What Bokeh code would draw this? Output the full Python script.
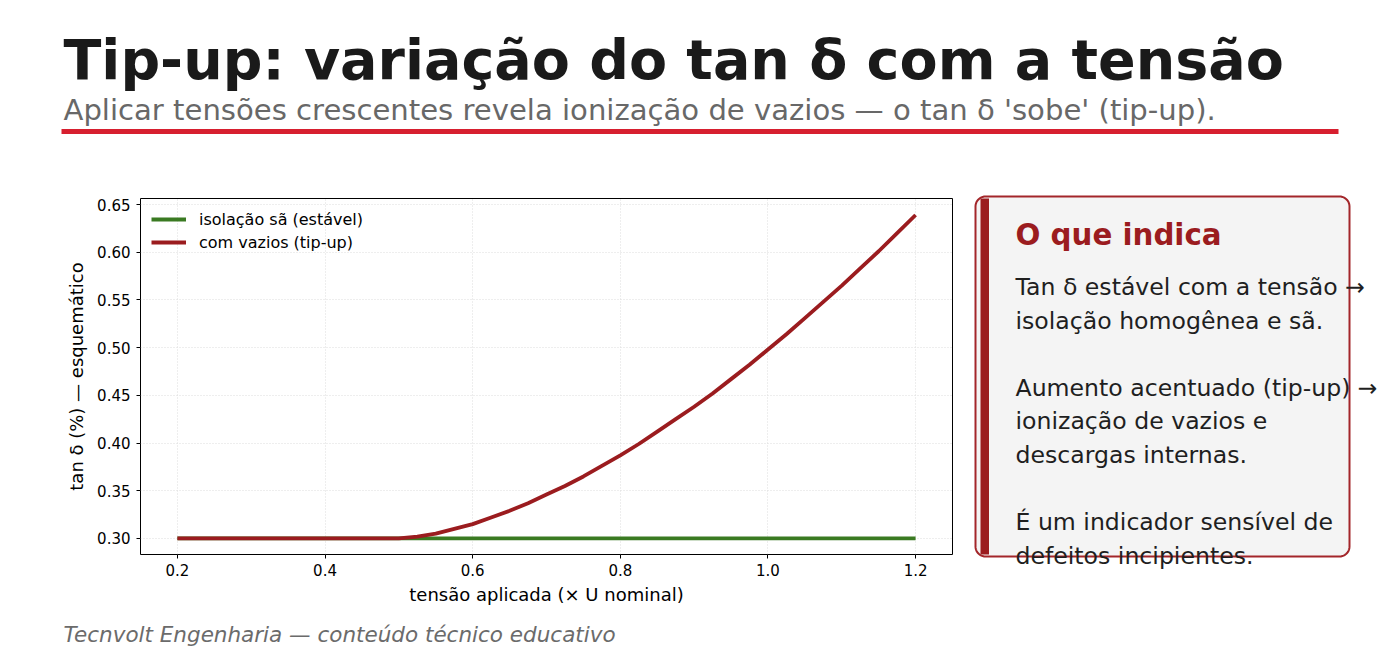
import numpy as np
from bokeh.plotting import figure
from bokeh.layouts import column, row
from bokeh.models import Range1d, FixedTicker, PrintfTickFormatter, Legend, LegendItem
from bokeh.core.properties import value
from bokeh.embed import file_html
from bokeh.resources import INLINE

# ---------------- data ----------------
title_text = "Tip-up: variação do tan δ com a tensão"
subtitle_text = "Aplicar tensões crescentes revela ionização de vazios — o tan δ 'sobe' (tip-up)."
footer_text = "Tecnvolt Engenharia — conteúdo técnico educativo"

voltage = [0.200, 0.300, 0.400, 0.500, 0.525, 0.550, 0.575, 0.600, 0.625, 0.650, 0.675,
           0.700, 0.725, 0.750, 0.775, 0.800, 0.825, 0.850, 0.875, 0.900, 0.925, 0.950,
           0.975, 1.000, 1.025, 1.050, 1.075, 1.100, 1.125, 1.150, 1.175, 1.200]
tan_sound = [0.300] * len(voltage)
tan_voids = [0.300, 0.300, 0.300, 0.300, 0.302, 0.305, 0.310, 0.315, 0.322, 0.329, 0.337,
             0.346, 0.355, 0.365, 0.376, 0.387, 0.399, 0.412, 0.425, 0.438, 0.452, 0.467,
             0.482, 0.498, 0.514, 0.531, 0.548, 0.565, 0.583, 0.601, 0.620, 0.639]
series_labels = ["isolação sã (estável)", "com vazios (tip-up)"]

x_ticks = [0.2, 0.4, 0.6, 0.8, 1.0, 1.2]
y_ticks = [0.30, 0.35, 0.40, 0.45, 0.50, 0.55, 0.60, 0.65]
x_label = "tensão aplicada (× U nominal)"
y_label = "tan δ (%) — esquemático"

box_title = "O que indica"
box_lines = ["Tan δ estável com a tensão →",
             "isolação homogênea e sã.",
             "",
             "Aumento acentuado (tip-up) →",
             "ionização de vazios e",
             "descargas internas.",
             "",
             "É um indicador sensível de",
             "defeitos incipientes."]

FONT = "DejaVu Sans"
GREEN = "#3a7a22"
DARKRED = "#9b1c1f"
BL = 0.4  # baseline correction (fraction of font size)


def blank(w, h, x0, x1, y0, y1):
    f = figure(width=w, height=h, x_range=Range1d(x0, x1), y_range=Range1d(y1, y0),
               output_backend="svg", toolbar_location=None,
               min_border=0, min_border_left=0, min_border_right=0,
               min_border_top=0, min_border_bottom=0)
    f.axis.visible = False
    f.grid.visible = False
    f.outline_line_color = None
    return f


def put_text(f, x, y, txt, size, color, style="normal"):
    f.text(x=x, y=[v - BL * size for v in y], text=txt, text_font=value(FONT),
           text_font_style=style, text_font_size=f"{size}px", text_color=color,
           text_baseline="alphabetic")


# ---------------- header ----------------
head = blank(1392, 180, 0, 1392, 0, 180)
put_text(head, [63], [81], [title_text], 55.5, "#1a1a1a", "bold")
put_text(head, [63], [121], [subtitle_text], 29.1, "#686868")
head.segment(x0=[61], y0=[131], x1=[1338], y1=[131], line_color="#d71f2f", line_width=5)

# ---------------- main plot ----------------
p = figure(frame_width=812, frame_height=356, min_border_left=140, min_border_right=8,
           min_border_top=18, min_border_bottom=58,
           x_range=Range1d(0.15, 1.25), y_range=Range1d(0.2832, 0.6563),
           output_backend="svg", toolbar_location=None)
r1 = p.line(voltage, tan_sound, line_color=GREEN, line_width=3.8)
r2 = p.line(voltage, tan_voids, line_color=DARKRED, line_width=3.8, line_join="round")
p.outline_line_color = "black"
p.outline_line_width = 1
p.xaxis.ticker = FixedTicker(ticks=x_ticks)
p.yaxis.ticker = FixedTicker(ticks=y_ticks)
p.xaxis.formatter = PrintfTickFormatter(format="%.1f")
p.yaxis.formatter = PrintfTickFormatter(format="%.2f")
p.xaxis.axis_label = x_label
p.yaxis.axis_label = y_label
for ax in (p.xaxis, p.yaxis):
    ax.axis_line_color = None
    ax.major_tick_in = 0
    ax.major_tick_out = 4
    ax.minor_tick_line_color = None
    ax.major_label_text_font = FONT
    ax.major_label_text_font_size = "15px"
    ax.major_label_text_color = "#000000"
    ax.axis_label_text_font = FONT
    ax.axis_label_text_font_size = "18px"
    ax.axis_label_text_font_style = "normal"
    ax.axis_label_text_color = "#000000"
p.xaxis.axis_label_standoff = 5
p.yaxis.axis_label_standoff = 7
p.xaxis.major_label_standoff = 5
p.yaxis.major_label_standoff = 6
p.grid.grid_line_color = "#dddddd"
p.grid.grid_line_dash = "1 2"
p.grid.grid_line_width = 1

legend = Legend(items=[LegendItem(label=series_labels[0], renderers=[r1]),
                       LegendItem(label=series_labels[1], renderers=[r2])],
                location="top_left", border_line_color=None, background_fill_alpha=0.0,
                label_text_font=FONT, label_text_font_size="16px", label_text_color="#000000",
                glyph_width=35, label_standoff=13, spacing=3, padding=4, margin=11)
p.add_layout(legend)

# ---------------- side box ----------------
box = blank(432, 432, 960, 1392, 180, 612)
x0, x1, y0, y1, rad = 975, 1349, 196, 556, 10
t = np.linspace(0, np.pi / 2, 12)
bx = np.concatenate([x1 - rad + rad * np.sin(t), x1 - rad + rad * np.cos(t),
                     x0 + rad - rad * np.sin(t), x0 + rad - rad * np.cos(t)])
by = np.concatenate([y0 + rad - rad * np.cos(t), y1 - rad + rad * np.sin(t),
                     y1 - rad + rad * np.cos(t), y0 + rad - rad * np.sin(t)])
box.patch(bx, by, fill_color="#f4f4f4", line_color="#a3262a", line_width=2)
box.quad(left=[980], right=[988.5], top=[198], bottom=[554], fill_color=DARKRED, line_color=None)
put_text(box, [1015], [246], [box_title], 29.3, DARKRED, "bold")
ys = [296 + 33.6 * i for i in range(len(box_lines))]
put_text(box, [1015] * len(box_lines), ys, box_lines, 23.6, "#1f1f1f")

# ---------------- footer ----------------
foot = blank(1392, 44, 0, 1392, 612, 656)
put_text(foot, [63], [643], [footer_text], 21.5, "#6b6b6b", "italic")

layout = column(head, row(p, column(box)), foot)
open("out.html", "w").write(file_html(layout, INLINE))
